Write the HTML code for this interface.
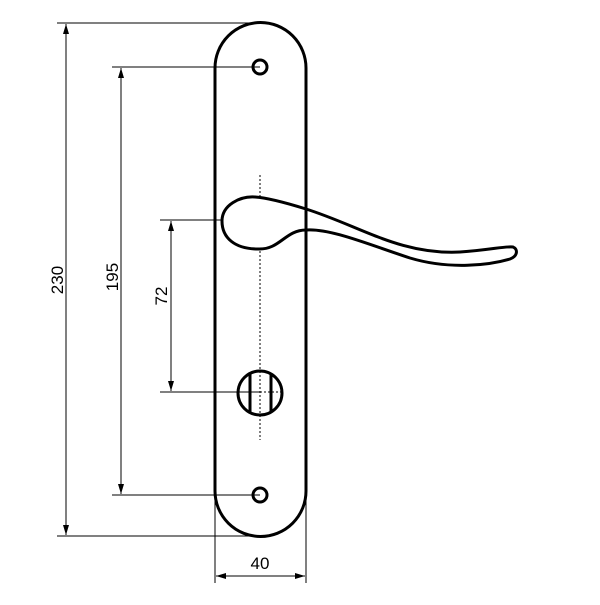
<!DOCTYPE html>
<html><head><style>body{margin:0;background:#fff}</style></head><body>
<svg width="600" height="600" viewBox="0 0 600 600" xmlns="http://www.w3.org/2000/svg">
<defs><marker id="a" markerWidth="10" markerHeight="6" refX="10" refY="3" orient="auto" markerUnits="userSpaceOnUse"><path d="M0,0 L10,3 L0,6 Z" fill="#000"/></marker></defs>
<g stroke="#000" stroke-width="1" fill="none">
<line x1="57" y1="23" x2="260" y2="23"/>
<line x1="57" y1="536" x2="260" y2="536"/>
<line x1="66" y1="280" x2="66" y2="24" marker-end="url(#a)"/>
<line x1="66" y1="280" x2="66" y2="535" marker-end="url(#a)"/>
<line x1="112" y1="67" x2="260" y2="67"/>
<line x1="112" y1="495" x2="260" y2="495"/>
<line x1="121" y1="280" x2="121" y2="68" marker-end="url(#a)"/>
<line x1="121" y1="280" x2="121" y2="494" marker-end="url(#a)"/>
<line x1="160" y1="220" x2="260" y2="220"/>
<line x1="160" y1="392" x2="260" y2="392"/>
<line x1="171" y1="300" x2="171" y2="221" marker-end="url(#a)"/>
<line x1="171" y1="300" x2="171" y2="391" marker-end="url(#a)"/>
<line x1="215" y1="500" x2="215" y2="583"/>
<line x1="306" y1="500" x2="306" y2="583"/>
<line x1="260" y1="576" x2="216" y2="576" marker-end="url(#a)"/>
<line x1="260" y1="576" x2="305" y2="576" marker-end="url(#a)"/>
<line x1="260" y1="175" x2="260" y2="440" stroke-dasharray="2,2"/>
<line x1="260" y1="220" x2="297" y2="220" stroke-dasharray="2,2"/>
<line x1="240" y1="392" x2="282" y2="392" stroke-dasharray="2,2"/>
</g>
<g stroke="#000" stroke-width="3" fill="none">
<path d="M215,68 A45.5,45.5 0 0 1 306,68 L306,491 A45.5,45.5 0 0 1 215,491 Z"/>
<circle cx="260" cy="67" r="7"/>
<circle cx="260" cy="495" r="7"/>
<circle cx="260" cy="393" r="22"/>
<line x1="250" y1="374" x2="250" y2="412"/>
<line x1="271" y1="374" x2="271" y2="412"/>
<path d="M306,209 C360,226 400,255 460,252 C490,250 505,246 513,247 C518,249 518,256 510,259 C490,265 450,270 410,258 C370,245 330,228 306,230 C285,230 280,250 258,249 C235,249 222,238 222,221 C222,205 240,196 255,197 C270,198 290,204 306,209 Z" fill="#fff"/>
</g>
<line x1="306" y1="208" x2="306" y2="231" stroke="#000" stroke-width="3"/>
<g font-family="Liberation Sans, sans-serif" font-size="17" fill="#000" text-anchor="middle">
<text transform="translate(63,280) rotate(-90)">230</text>
<text transform="translate(118,277) rotate(-90)">195</text>
<text transform="translate(167,296) rotate(-90)">72</text>
<text x="260" y="569">40</text>
</g>
</svg>
</body></html>
